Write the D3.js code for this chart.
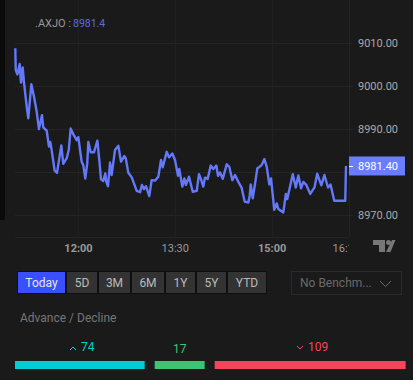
<!DOCTYPE html>
<html>
<head>
<meta charset="utf-8">
<script src="https://cdn.jsdelivr.net/npm/d3@7"></script>
<style>
html, body { margin: 0; padding: 0; background: #1a1a1a; overflow: hidden; }
svg { display: block; font-family: Roboto, sans-serif; }
.domain { display: none; }
</style>
</head>
<body>
<div id="chart"></div>
<script>
// minutes since midnight
var times = [661.7, 662.1, 663.6, 665.8, 667.0, 668.6, 669.8, 672.3, 673.8, 676.6, 679.1, 681.6, 683.7, 686.5, 687.7, 690.9, 693.0, 694.2, 695.5, 698.3, 700.5, 704.5, 706.3, 709.5, 711.4, 713.2, 715.6, 718.8, 720.3, 723.4, 724.9, 726.8, 728.6, 729.6, 731.8, 734.9, 738.0, 739.8, 741.4, 743.5, 745.4, 746.3, 747.9, 749.8, 751.3, 754.4, 757.5, 760.0, 763.1, 764.4, 766.8, 769.9, 774.6, 777.7, 779.5, 781.4, 783.2, 786.3, 788.5, 791.6, 794.7, 797.2, 798.8, 802.5, 804.6, 807.7, 810.2, 813.0, 814.2, 817.0, 818.9, 820.4, 823.2, 826.7, 830.4, 832.5, 834.1, 836.5, 838.1, 840.6, 843.4, 845.8, 848.6, 850.2, 852.1, 854.6, 858.3, 860.7, 863.5, 866.0, 869.1, 872.2, 875.0, 878.4, 879.7, 880.6, 882.5, 884.9, 886.7, 890.8, 893.3, 895.5, 897.9, 899.5, 902.5, 904.8, 906.3, 910.9, 913.3, 914.6, 919.7, 922.5, 924.9, 927.4, 929.5, 932.3, 936.0, 940.0, 942.4, 946.3, 949.1, 952.5, 954.8, 958.3, 968.5, 969.2];
var prices = [9008.8, 9003.7, 9002.7, 9005.1, 9000.8, 9004.3, 9000.8, 8995.2, 8992.5, 9000.4, 8997.5, 8994.0, 8990.0, 8993.2, 8990.4, 8989.6, 8985.9, 8987.0, 8985.1, 8980.3, 8979.8, 8986.2, 8981.9, 8983.2, 8985.1, 8990.1, 8988.8, 8987.4, 8988.1, 8982.4, 8981.6, 8978.5, 8982.0, 8987.0, 8984.6, 8984.6, 8987.3, 8982.8, 8978.3, 8977.9, 8979.7, 8977.7, 8976.7, 8982.2, 8979.3, 8985.1, 8986.1, 8982.4, 8983.7, 8983.2, 8979.8, 8978.8, 8975.6, 8975.3, 8977.0, 8976.0, 8976.7, 8974.4, 8978.1, 8978.0, 8978.9, 8982.8, 8981.1, 8984.7, 8983.4, 8984.3, 8982.8, 8979.1, 8980.7, 8976.6, 8978.5, 8977.0, 8978.9, 8975.4, 8975.6, 8979.5, 8978.5, 8976.6, 8978.7, 8978.4, 8981.5, 8980.7, 8981.5, 8979.1, 8979.9, 8978.4, 8981.8, 8981.2, 8978.1, 8979.3, 8977.7, 8976.3, 8973.1, 8972.9, 8974.6, 8977.1, 8973.9, 8977.7, 8980.8, 8981.6, 8983.0, 8981.2, 8977.1, 8978.5, 8971.2, 8972.7, 8971.4, 8970.6, 8974.9, 8973.7, 8979.5, 8976.4, 8979.2, 8976.2, 8977.7, 8977.0, 8974.9, 8976.5, 8979.6, 8976.9, 8979.3, 8976.4, 8977.1, 8973.3, 8973.3, 8981.4];
var price_ticks = [8970, 8980, 8990, 9000, 9010];
var price_labels = [8970, 8990, 9000, 9010];
var time_ticks = [720, 810, 900, 969];
var time_labels = ["12:00", "13:30", "15:00", "16:10"];
var bold_labels = ["12:00", "15:00"];
var ranges = ["Today", "5D", "3M", "6M", "1Y", "5Y", "YTD"];
var range_widths = [49, 32, 33, 34, 31, 31, 40];
var breadth_names = ["advance", "unchanged", "decline"];
var breadth_values = [74, 17, 109];
var breadth_colors = ["#00ced1", "#3cc472", "#f5455c"];

var chart_width = 413,
	chart_height = 380;

var svg = d3.select("#chart")
	.append("svg")
	.attr("width", chart_width)
	.attr("height", chart_height);

svg.append("rect")
	.attr("width", chart_width)
	.attr("height", chart_height)
	.attr("fill", "#1a1a1a");

// dark strip on the left of the widget
svg.append("rect")
	.attr("width", 5)
	.attr("height", 220)
	.attr("fill", "#0a0a0a");

// Scales
var x_scale = d3.scaleLinear()
	.domain([d3.min(times), d3.max(times)])
	.range([15.3, 346]);

var y_scale = d3.scaleLinear()
	.domain([8970, 9010])
	.range([215, 43]);

var plot_right = 349,
	plot_bottom = 237;

// Grid
svg.append("g").selectAll("line")
	.data(price_ticks)
	.enter()
	.append("line")
		.attr("x1", 15)
		.attr("x2", plot_right + 4)
		.attr("y1", function(d) { return y_scale(d) + 0.5; })
		.attr("y2", function(d) { return y_scale(d) + 0.5; })
		.attr("stroke", "#242424");

svg.append("g").selectAll("line")
	.data(time_ticks.slice(0, 3))
	.enter()
	.append("line")
		.attr("x1", function(d) { return Math.round(x_scale(d)) + 0.5; })
		.attr("x2", function(d) { return Math.round(x_scale(d)) + 0.5; })
		.attr("y1", 0)
		.attr("y2", plot_bottom)
		.attr("stroke", "#202020");

svg.append("line")
	.attr("x1", plot_right + 0.5)
	.attr("x2", plot_right + 0.5)
	.attr("y1", 0)
	.attr("y2", plot_bottom)
	.attr("stroke", "#242424");

svg.append("line")
	.attr("x1", 15)
	.attr("x2", plot_right)
	.attr("y1", plot_bottom + 0.5)
	.attr("y2", plot_bottom + 0.5)
	.attr("stroke", "#242424");

// Axes
var y_axis = d3.axisRight(y_scale)
	.tickValues(price_labels)
	.tickSize(0)
	.tickPadding(0)
	.tickFormat(d3.format(".2f"));

svg.append("g")
	.attr("class", "y-axis")
	.attr("transform", "translate(358,0)")
	.call(y_axis)
	.selectAll("text")
		.attr("fill", "#aaaaaa")
		.style("font-family", "Roboto, sans-serif")
		.style("font-size", "11px");

// the last time label is cut off at the price scale
svg.append("clipPath")
	.attr("id", "time-clip")
	.append("rect")
		.attr("x", 0)
		.attr("y", 0)
		.attr("width", plot_right)
		.attr("height", 30);

var x_axis = d3.axisBottom(x_scale)
	.tickValues(time_ticks)
	.tickSize(0)
	.tickPadding(0)
	.tickFormat(function(d, i) { return time_labels[i]; });

svg.append("g")
	.attr("class", "x-axis")
	.attr("clip-path", "url(#time-clip)")
	.attr("transform", "translate(0,244)")
	.call(x_axis)
	.selectAll("text")
		.attr("fill", "#999999")
		.style("font-family", "Roboto, sans-serif")
		.style("font-size", "11px")
		.style("font-weight", function(d, i) {
			return bold_labels.indexOf(time_labels[i]) >= 0 ? "700" : "400";
		});

// Price line
var points = times.map(function(t, i) { return [t, prices[i]]; });

var line = d3.line()
	.x(function(d) { return x_scale(d[0]); })
	.y(function(d) { return y_scale(d[1]); });

svg.append("path")
	.datum(points)
	.attr("d", line)
	.attr("fill", "none")
	.attr("stroke", "#6478fa")
	.attr("stroke-width", 2.4)
	.attr("stroke-linejoin", "round");

// Last price label
var last_price = prices[prices.length - 1];
var last_y = y_scale(last_price);

svg.append("rect")
	.attr("x", plot_right)
	.attr("y", last_y - 9.5)
	.attr("width", 56)
	.attr("height", 19)
	.attr("fill", "#6a7dff");

svg.append("line")
	.attr("x1", plot_right)
	.attr("x2", plot_right + 4)
	.attr("y1", Math.round(last_y) + 0.5)
	.attr("y2", Math.round(last_y) + 0.5)
	.attr("stroke", "#ffffff");

svg.append("text")
	.attr("x", 358)
	.attr("y", last_y + 4)
	.attr("fill", "#ffffff")
	.attr("font-size", 11)
	.text(d3.format(".2f")(last_price));

// Title
svg.append("text")
	.attr("x", 35)
	.attr("y", 27)
	.attr("font-size", 11)
	.attr("fill", "#999999")
	.text(".AXJO :");

svg.append("text")
	.attr("x", 73)
	.attr("y", 27)
	.attr("font-size", 10.500)
	.attr("fill", "#5a6ede")
	.text(d3.format(".1f")(last_price));

// TradingView mark
svg.append("path")
	.attr("d", "M373 240H385V252H379V245H373ZM392 240H395.500L390.500 252H386Z")
	.attr("fill", "#777777");
svg.append("circle")
	.attr("cx", 388.500)
	.attr("cy", 242.500)
	.attr("r", 2.500)
	.attr("fill", "#777777");

// Range buttons
var button_x = d3.cumsum([17].concat(range_widths));

var buttons = svg.append("g").selectAll("g")
	.data(ranges)
	.enter()
	.append("g")
		.attr("transform", function(d, i) { return "translate(" + button_x[i] + ",271)"; });

buttons.append("rect")
	.attr("x", 0.5)
	.attr("y", 0.5)
	.attr("width", function(d, i) { return range_widths[i] - 1; })
	.attr("height", 22)
	.attr("fill", function(d, i) { return i == 0 ? "#3a4fff" : "#333333"; })
	.attr("stroke", "#0f0f0f");

buttons.append("text")
	.attr("x", function(d, i) { return range_widths[i] / 2; })
	.attr("y", 16)
	.attr("text-anchor", "middle")
	.attr("font-size", 12)
	.attr("fill", function(d, i) { return i == 0 ? "#e6e6e6" : "#bbbbbb"; })
	.text(function(d) { return d; });

// Benchmark dropdown
svg.append("rect")
	.attr("x", 291.500)
	.attr("y", 271.500)
	.attr("width", 110)
	.attr("height", 23)
	.attr("fill", "none")
	.attr("stroke", "#2b2b2b");

svg.append("text")
	.attr("x", 300)
	.attr("y", 287)
	.attr("font-size", 12)
	.attr("fill", "#6a6a6a")
	.text("No Benchm...");

svg.append("path")
	.attr("d", "M380 281L385.500 286.500L391 281")
	.attr("fill", "none")
	.attr("stroke", "#6a6a6a");

// Advance / Decline
svg.append("text")
	.attr("x", 20)
	.attr("y", 322)
	.attr("font-size", 12)
	.attr("fill", "#777777")
	.text("Advance / Decline");

var bar_scale = d3.scaleLinear()
	.domain([0, 109])
	.range([0, 191]);

var bar_widths = breadth_values.map(function(d) { return Math.max(50, bar_scale(d)); });
var bar_x = [15];
bar_widths.forEach(function(w, i) { bar_x[i + 1] = bar_x[i] + w + 10; });

svg.append("g").selectAll("rect")
	.data(breadth_values)
	.enter()
	.append("rect")
		.attr("x", function(d, i) { return bar_x[i]; })
		.attr("y", 361)
		.attr("width", function(d, i) { return bar_widths[i]; })
		.attr("height", 8)
		.attr("fill", function(d, i) { return breadth_colors[i]; });

svg.append("g").selectAll("text")
	.data(breadth_values)
	.enter()
	.append("text")
		.attr("x", function(d, i) { return bar_x[i] + bar_widths[i] / 2 + (i == 1 ? 0 : 8); })
		.attr("y", function(d, i) { return i == 1 ? 353 : 351; })
		.attr("text-anchor", "middle")
		.attr("font-size", 12)
		.attr("fill", function(d, i) { return breadth_colors[i]; })
		.text(function(d) { return d; });

// Little arrows next to the counts
svg.append("path")
	.attr("d", "M70 350L73 347L76 350")
	.attr("fill", "none")
	.attr("stroke", breadth_colors[0]);
svg.append("path")
	.attr("d", "M297 346L300 349L303 346")
	.attr("fill", "none")
	.attr("stroke", breadth_colors[2]);
</script>
</body>
</html>
